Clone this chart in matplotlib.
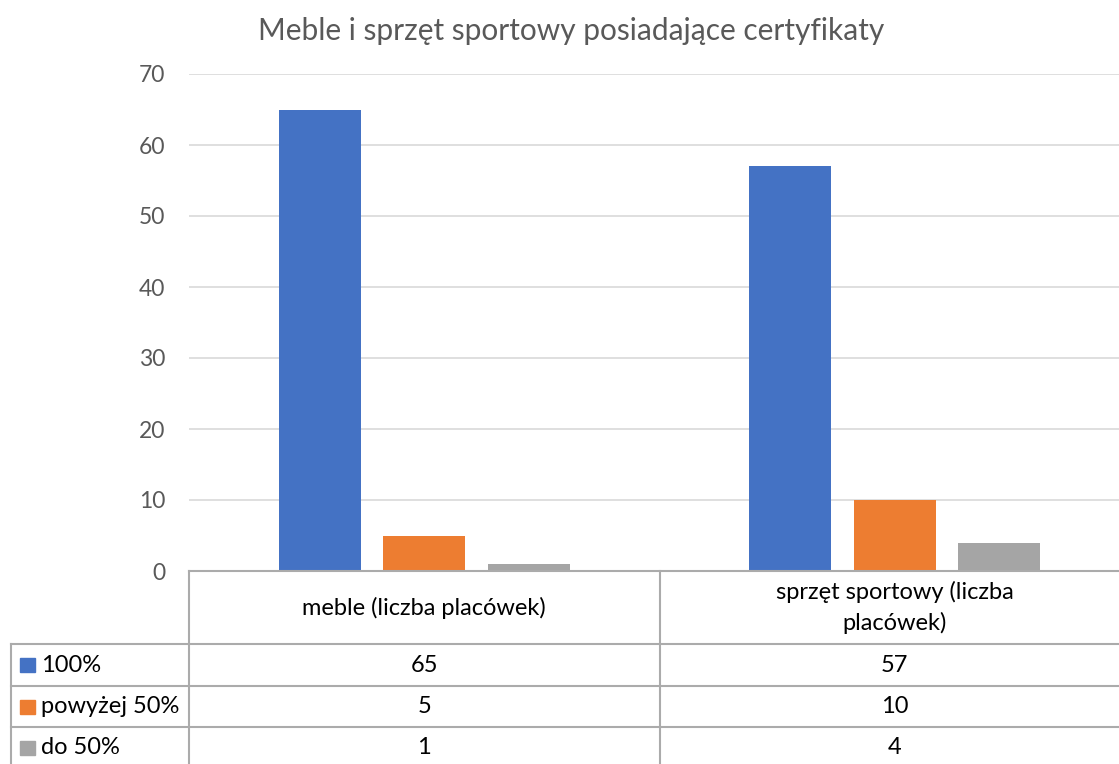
import matplotlib.pyplot as plt
from matplotlib.lines import Line2D
from matplotlib.patches import Rectangle

# dane
kategorie = ["meble (liczba placówek)", "sprzęt sportowy (liczba\nplacówek)"]
serie = ["100%", "powyżej 50%", "do 50%"]
wartosci = [
    [65, 57],
    [5, 10],
    [1, 4],
]
kolory = ["#4472C4", "#ED7D31", "#A5A5A5"]
tytul = "Meble i sprzęt sportowy posiadające certyfikaty"

plt.rcParams["font.family"] = ["Lato", "DejaVu Sans"]

W, H = 1119, 764
fig = plt.figure(figsize=(W / 100, H / 100), dpi=100)

# obszar wykresu (w pikselach)
x0, x1 = 189, 1130
y_top, y_axis = 74, 571
ax = fig.add_axes([x0 / W, 1 - y_axis / H, (x1 - x0) / W, (y_axis - y_top) / H])

szer = 0.174
odst = 0.222
for i, (nazwa, vals) in enumerate(zip(serie, wartosci)):
    xs = [k + 0.5 + (i - 1) * odst for k in range(len(kategorie))]
    ax.bar(xs, vals, width=szer, color=kolory[i], zorder=3)

ax.set_xlim(0, len(kategorie))
ax.set_ylim(0, 70)
ax.set_yticks(range(0, 71, 10))
ax.set_xticks([])
ax.tick_params(axis="y", length=0, pad=17, labelsize=16.5, labelcolor="#595959")
ax.grid(axis="y", color="#D9D9D9", linewidth=1.2, zorder=0)
for s in ax.spines.values():
    s.set_visible(False)

fig.text(571 / W, 1 - 31 / H, tytul, ha="center", va="center",
         fontsize=21.5, color="#595959")

# tabela danych
linia = "#ABABAB"
def fx(px):
    return px / W
def fy(py):
    return 1 - py / H

wiersze = [571, 644, 686, 727, 768]
x_leg = 11
x_mid = 659.5

# poziome linie
fig.add_artist(Line2D([fx(x0), fx(W)], [fy(wiersze[0])] * 2, color=linia, lw=1.5))
for py in wiersze[1:]:
    fig.add_artist(Line2D([fx(x_leg), fx(W)], [fy(py)] * 2, color=linia, lw=1.5))
# pionowe linie
fig.add_artist(Line2D([fx(x0)] * 2, [fy(wiersze[0]), fy(wiersze[-1])], color=linia, lw=1.5))
fig.add_artist(Line2D([fx(x_mid)] * 2, [fy(wiersze[0]), fy(wiersze[-1])], color=linia, lw=1.5))
fig.add_artist(Line2D([fx(x_leg)] * 2, [fy(wiersze[1]), fy(wiersze[-1])], color=linia, lw=1.5))

# nagłówki
yc = (wiersze[0] + wiersze[1]) / 2
for k, kat in enumerate(kategorie):
    fig.text(fx(x0 + (k + 0.5) * (x1 - x0) / len(kategorie)), fy(yc), kat,
             ha="center", va="center", fontsize=17, color="#000000",
             linespacing=1.45)

# wiersze z wartościami
for i, nazwa in enumerate(serie):
    yc = (wiersze[i + 1] + wiersze[i + 2]) / 2
    fig.add_artist(Rectangle((fx(20), fy(yc + 7)), 15 / W, 14 / H,
                             color=kolory[i], transform=fig.transFigure))
    fig.text(fx(41), fy(yc), nazwa, ha="left", va="center",
             fontsize=17, color="#000000")
    for k in range(len(kategorie)):
        fig.text(fx(x0 + (k + 0.5) * (x1 - x0) / len(kategorie)), fy(yc),
                 str(wartosci[i][k]), ha="center", va="center",
                 fontsize=17, color="#000000")

plt.savefig("out.png", dpi=100)
